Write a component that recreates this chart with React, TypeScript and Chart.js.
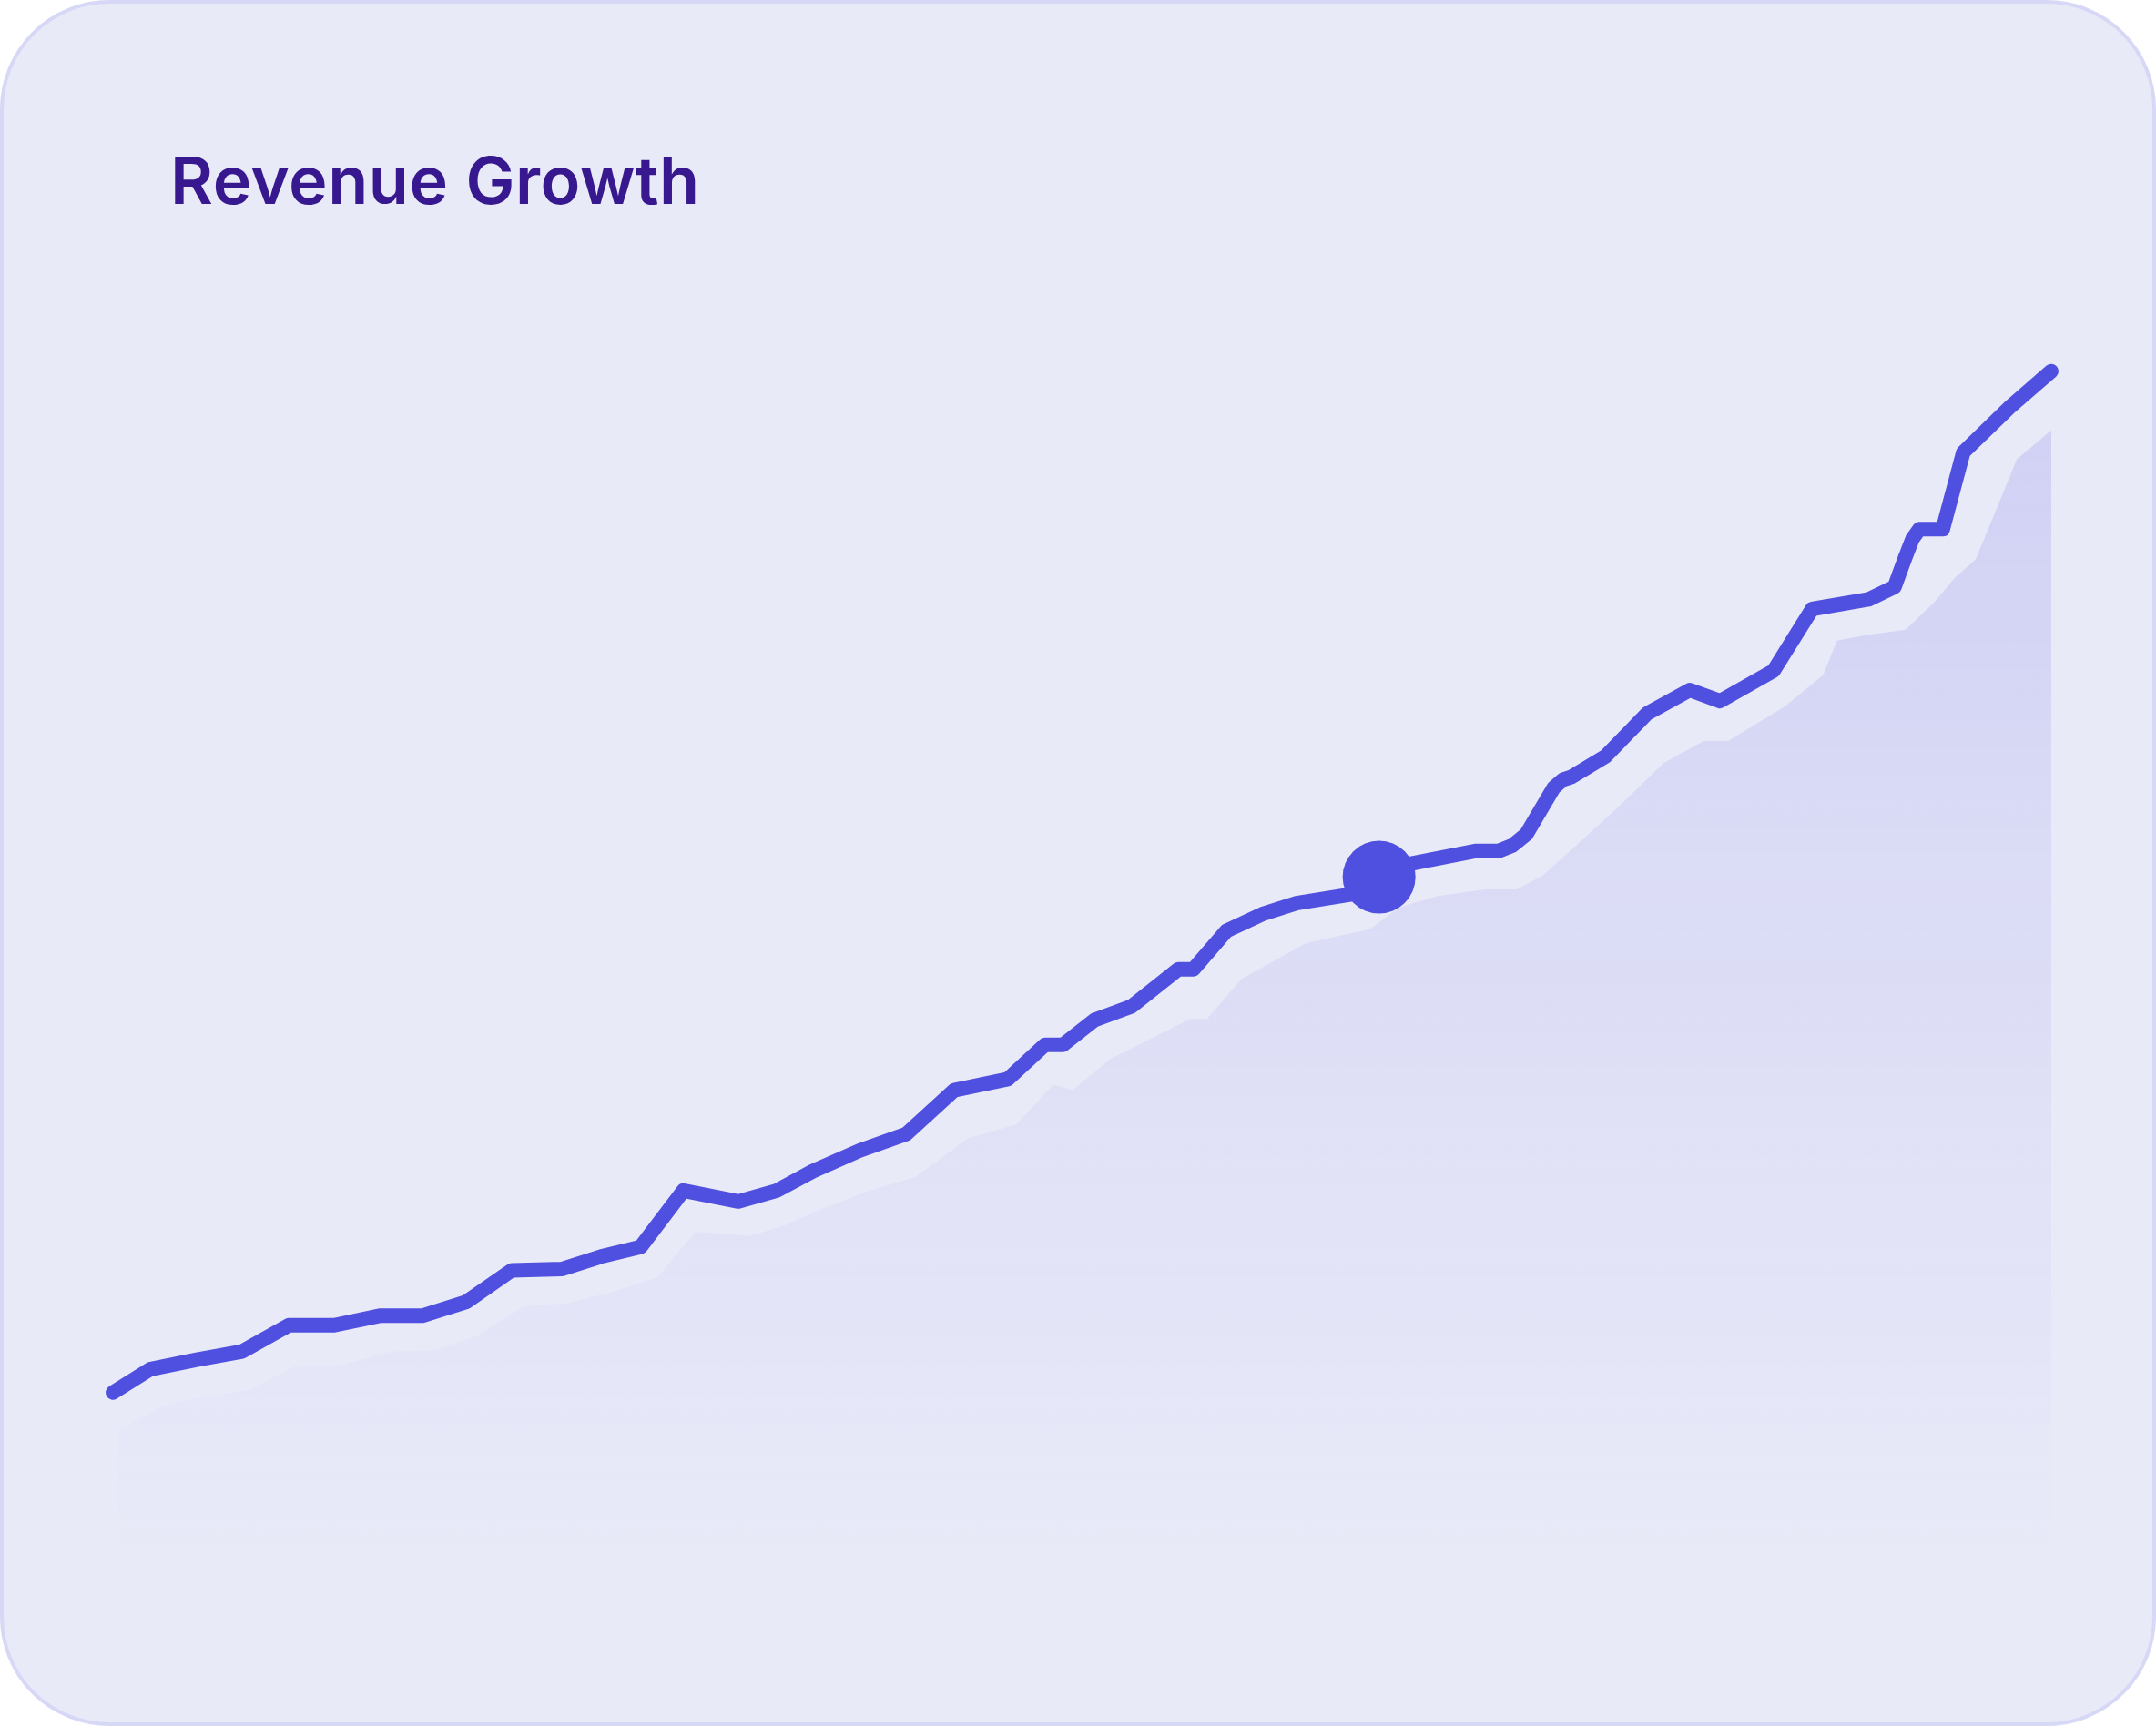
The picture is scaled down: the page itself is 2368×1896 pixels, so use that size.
import React, { useEffect, useRef } from "react";
import { Chart, registerables } from "chart.js";

Chart.register(...registerables);

const PAGE_W = 2368;
const PAGE_H = 1896;

const TITLE = "Revenue Growth";

// Revenue line (x = period position 0..100, y = revenue index)
const revenueX = [
  0, 1.91, 4.33, 6.67, 9.08, 11.42, 13.76, 15.96, 18.23, 20.57,
  23.19, 25.18, 27.23, 29.43, 32.27, 34.26, 36.1, 38.51, 40.92, 43.4,
  46.17, 48.09, 49.01, 50.64, 52.55, 54.96, 55.74, 57.45, 59.29, 61.06,
  63.69, 64.75, 65.32, 65.96, 70.28, 71.49, 72.2, 72.91, 74.33, 74.82,
  75.25, 77.02, 79.15, 81.35, 82.91, 85.67, 87.66, 90.57, 91.91, 92.48,
  92.84, 93.19, 94.4, 95.46, 97.87, 100,
];
const revenueY = [
  13.93, 15.89, 16.7, 17.39, 19.59, 19.59, 20.39, 20.39, 21.55, 24.2,
  24.32, 25.36, 26.17, 30.9, 29.98, 30.9, 32.52, 34.25, 35.64, 39.33,
  40.26, 43.14, 43.14, 45.22, 46.37, 49.49, 49.49, 52.72, 54.11, 55.03,
  55.72, 56.0, 57.23, 58.04, 59.42, 59.42, 59.88, 60.81, 64.73, 65.42,
  65.65, 67.39, 70.97, 72.93, 72.01, 74.55, 79.74, 80.55, 81.59, 84.13,
  85.63, 86.44, 86.44, 92.9, 96.71, 99.72,
];
const highlightIndex = 32;

// Shaded trend area behind the line
const trendX = [
  0.28, 2.7, 4.82, 7.09, 9.5, 11.77, 14.4, 16.6, 18.72, 21.21,
  23.4, 25.74, 28.09, 30.07, 32.84, 34.75, 36.6, 38.87, 41.42, 44.11,
  46.6, 48.51, 49.5, 51.49, 55.6, 56.45, 58.23, 61.56, 64.82, 66.38,
  68.3, 70.78, 72.41, 73.76, 77.59, 80.0, 82.06, 83.33, 86.24, 88.23,
  88.94, 90.43, 92.48, 93.97, 95.04, 96.1, 98.23, 100,
];
const trendY = [
  10.81, 12.89, 13.58, 14.16, 16.24, 16.24, 17.39, 17.51, 18.66, 21.2,
  21.43, 22.36, 23.63, 27.44, 27.09, 28.02, 29.4, 30.79, 32.06, 35.29,
  36.45, 39.79, 39.33, 41.99, 45.33, 45.33, 48.68, 51.68, 52.84, 54.69,
  55.61, 56.19, 56.19, 57.34, 63.0, 66.81, 68.66, 68.66, 71.54, 74.2,
  77.09, 77.55, 78.01, 80.32, 82.4, 83.9, 92.33, 94.75,
];

const LINE_COLOR = "#5050E0";

export default function App() {
  const canvasRef = useRef<HTMLCanvasElement>(null);

  useEffect(() => {
    const canvas = canvasRef.current;
    if (!canvas) return;
    const chart = new Chart(canvas, {
      type: "line",
      data: {
        datasets: [
          {
            label: "Revenue",
            data: revenueX.map((x, i) => ({ x, y: revenueY[i] })),
            borderColor: LINE_COLOR,
            borderWidth: 16,
            borderCapStyle: "round",
            borderJoinStyle: "round",
            tension: 0,
            fill: false,
            pointRadius: (c: any) => (c.dataIndex === highlightIndex ? 40 : 0),
            pointHoverRadius: (c: any) => (c.dataIndex === highlightIndex ? 40 : 0),
            pointBackgroundColor: LINE_COLOR,
            pointBorderWidth: 0,
            clip: false as any,
          },
          {
            label: "Trend",
            data: trendX.map((x, i) => ({ x, y: trendY[i] })),
            borderWidth: 0,
            borderColor: "rgba(0,0,0,0)",
            pointRadius: 0,
            tension: 0,
            fill: "start",
            backgroundColor: (c: any) => {
              const area = c.chart.chartArea;
              if (!area) return "rgba(80,80,224,0.1)";
              const g = c.chart.ctx.createLinearGradient(0, area.top, 0, area.bottom);
              g.addColorStop(0, "rgba(80,80,224,0.17)");
              g.addColorStop(0.55, "rgba(80,80,224,0.07)");
              g.addColorStop(1, "rgba(80,80,224,0)");
              return g;
            },
          },
        ],
      },
      options: {
        animation: false,
        responsive: false,
        maintainAspectRatio: false,
        events: [],
        layout: { padding: { left: 124, right: 115, top: 404, bottom: 184 } },
        plugins: {
          legend: { display: false },
          tooltip: { enabled: false },
          title: { display: false },
        },
        scales: {
          x: { type: "linear", min: 0, max: 100, display: false },
          y: { type: "linear", min: 0, max: 100, display: false },
        },
      },
    });
    return () => chart.destroy();
  }, []);

  return (
    <div
      style={{
        position: "absolute",
        left: 0,
        top: 0,
        width: PAGE_W,
        height: PAGE_H,
        background: "#ffffff",
      }}
    >
      <div
        style={{
          position: "absolute",
          left: 0,
          top: 0,
          width: PAGE_W,
          height: PAGE_H,
          boxSizing: "border-box",
          border: "4px solid #D6D8F6",
          borderRadius: 120,
          background: "#E9EAF8",
        }}
      />
      <canvas
        ref={canvasRef}
        width={PAGE_W}
        height={PAGE_H}
        style={{ position: "absolute", left: 0, top: 0, width: PAGE_W, height: PAGE_H }}
      />
      <div
        style={{
          position: "absolute",
          left: 187,
          top: 162,
          fontFamily: "Inter, 'Noto Sans', sans-serif",
          fontWeight: 600,
          fontSize: 72,
          lineHeight: "72px",
          letterSpacing: "0.6px",
          color: "#38188F",
          whiteSpace: "nowrap",
        }}
      >
        {TITLE}
      </div>
    </div>
  );
}
